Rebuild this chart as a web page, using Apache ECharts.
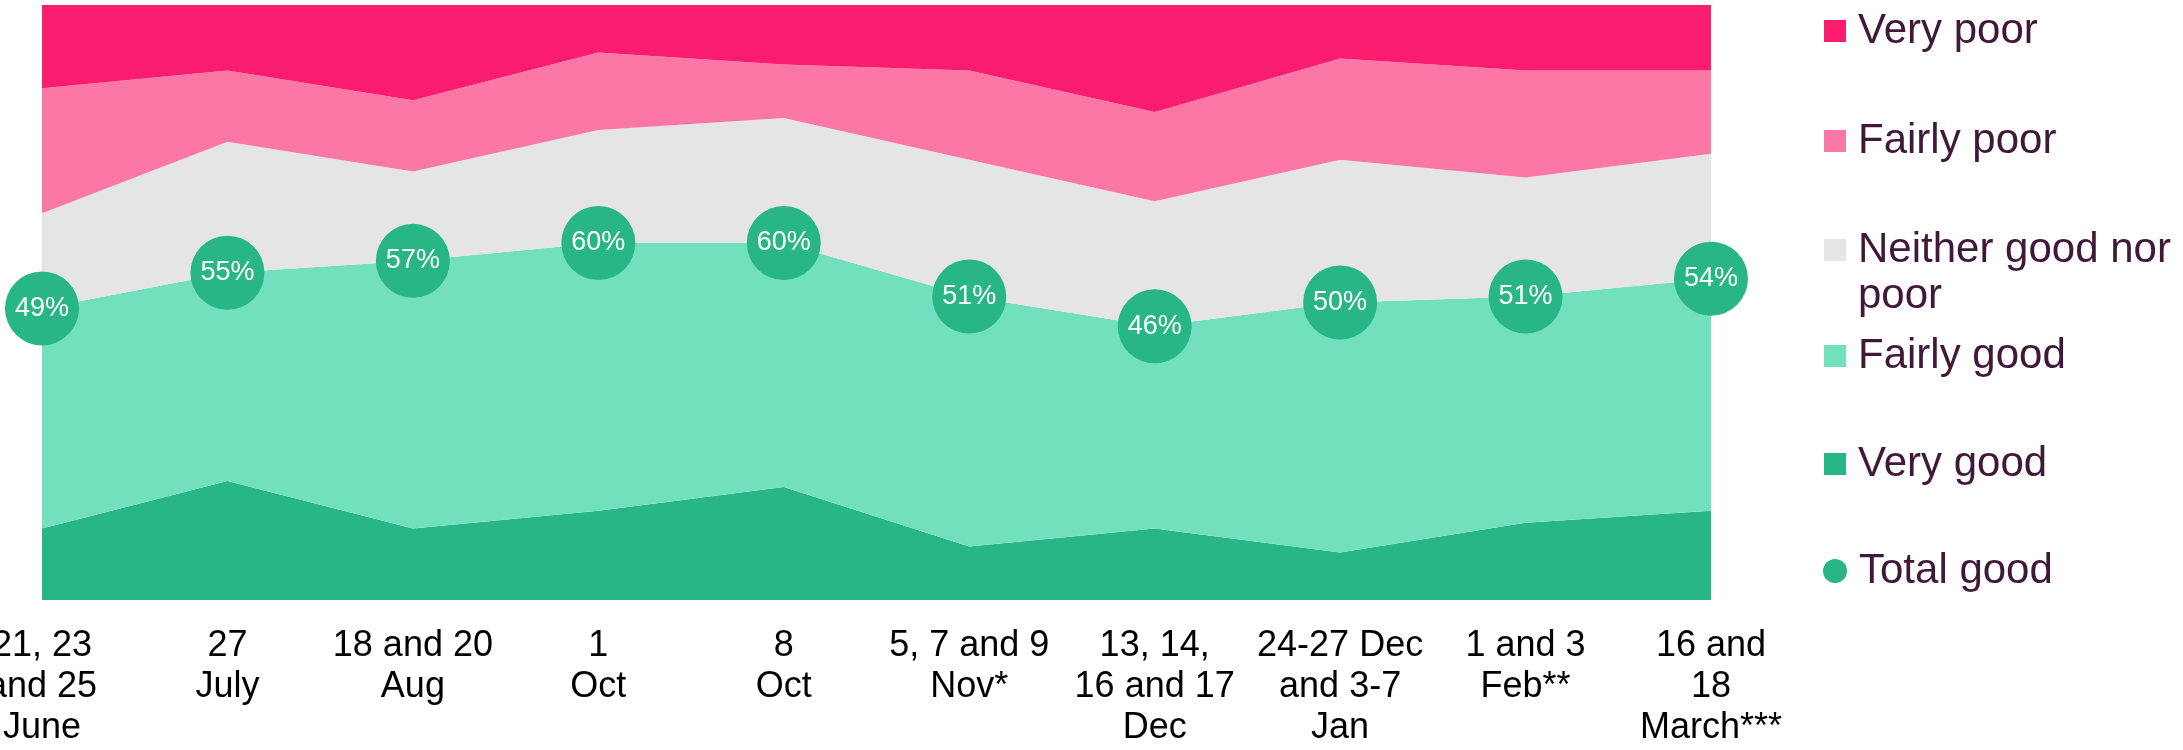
<!DOCTYPE html>
<html>
<head>
<meta charset="utf-8">
<script src="https://cdn.jsdelivr.net/npm/echarts@6/dist/echarts.min.js"></script>
<style>
  html, body { margin: 0; padding: 0; background: #fff; }
  #chart { width: 2183px; height: 750px; }
</style>
</head>
<body>
<div id="chart"></div>
<script>
// survey waves
const categories = [
  '21, 23\nand 25\nJune',
  '27\nJuly',
  '18 and 20\nAug',
  '1\nOct',
  '8\nOct',
  '5, 7 and 9\nNov*',
  '13, 14,\n16 and 17\nDec',
  '24-27 Dec\nand 3-7\nJan',
  '1 and 3\nFeb**',
  '16 and\n18\nMarch***'
]

// shares in % (bottom to top)
const veryGood   = [12, 20, 12, 15, 19,  9, 12,  8, 13, 15]
const fairlyGood = [37, 35, 45, 45, 41, 42, 34, 42, 38, 39]
const neither    = [16, 22, 15, 19, 21, 23, 21, 24, 20, 21]
const fairlyPoor = [21, 12, 12, 13,  9, 15, 15, 17, 18, 14]
const veryPoor   = [14, 11, 16,  8, 10, 11, 18,  9, 11, 11]
const totalGood  = [49, 55, 57, 60, 60, 51, 46, 50, 51, 54]

const colors = {
  veryPoor: '#FA1C6F',
  fairlyPoor: '#FB77A6',
  neither: '#E5E5E5',
  fairlyGood: '#73E0BD',
  veryGood: '#28B686'
}

const chart = echarts.init(document.getElementById('chart'))

function area(name, data, color) {
  return {
    name: name,
    type: 'line',
    stack: 'total',
    data: data,
    showSymbol: false,
    symbol: 'none',
    lineStyle: { width: 0 },
    areaStyle: { color: color, opacity: 1 },
    itemStyle: { color: color },
    emphasis: { disabled: true }
  }
}

// legend, one block per item so the wrapped label doesn't push the others down
const legendFont = { fontFamily: 'Liberation Sans', fontSize: 42, color: '#40193A', lineHeight: 46 }
const legendCenters = [31, 141, 250, 356, 464, 571]
const legendItems = [
  { name: 'Very poor', icon: 'rect' },
  { name: 'Fairly poor', icon: 'rect' },
  { name: 'Neither good nor poor', icon: 'rect', wrap: true },
  { name: 'Fairly good', icon: 'rect' },
  { name: 'Very good', icon: 'rect' },
  { name: 'Total good', icon: 'circle' }
]
const legends = legendItems.map((it, i) => {
  const size = it.icon === 'circle' ? 24 : 22
  let top = legendCenters[i] - 23
  if (it.wrap) top = legendCenters[i] - 69
  return {
    data: [{ name: it.name, icon: it.icon }],
    orient: 'vertical',
    left: it.icon === 'circle' ? 1823 : 1824,
    top: top,
    padding: 0,
    itemWidth: size,
    itemHeight: size,
    selectedMode: false,
    // empty first line keeps "Neither good nor" level with its swatch
    formatter: it.wrap ? ' \nNeither good nor\npoor' : '{name}',
    textStyle: Object.assign({}, legendFont, { padding: [0, 0, 0, 7] })
  }
})

chart.setOption({
  animation: false,
  legend: legends,
  grid: {
    left: 42,
    right: 472,
    top: 5,
    bottom: 150,
    containLabel: false,
    outerBoundsMode: 'none'
  },
  xAxis: {
    type: 'category',
    data: categories,
    boundaryGap: false,
    axisLine: { show: false },
    axisTick: { show: false },
    splitLine: { show: false },
    axisLabel: {
      interval: 0,
      margin: 26,
      color: '#000',
      fontFamily: 'Liberation Sans',
      fontSize: 36,
      lineHeight: 41,
      align: 'center'
    }
  },
  yAxis: {
    type: 'value',
    min: 0,
    max: 100,
    show: false,
    splitLine: { show: false }
  },
  series: [
    area('Very good', veryGood, colors.veryGood),
    area('Fairly good', fairlyGood, colors.fairlyGood),
    area('Neither good nor poor', neither, colors.neither),
    area('Fairly poor', fairlyPoor, colors.fairlyPoor),
    area('Very poor', veryPoor, colors.veryPoor),
    {
      name: 'Total good',
      type: 'scatter',
      data: totalGood,
      symbol: 'circle',
      symbolSize: 74,
      clip: false,
      z: 5,
      itemStyle: { color: colors.veryGood, opacity: 1 },
      label: {
        show: true,
        position: 'inside',
        formatter: '{c}%',
        color: '#fff',
        fontFamily: 'Liberation Sans',
        fontSize: 27
      },
      emphasis: { disabled: true }
    }
  ]
})
</script>
</body>
</html>
